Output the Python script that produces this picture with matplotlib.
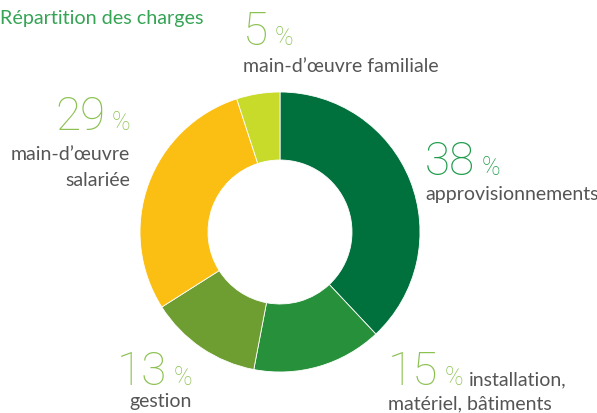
import matplotlib
matplotlib.use("Agg")
import matplotlib.pyplot as plt

W, H = 597, 414

# data
categories = ["approvisionnements", "installation,\nmatériel, bâtiments", "gestion",
              "main-d’œuvre\nsalariée", "main-d’œuvre familiale"]
values = [38, 15, 13, 29, 5]
colors = ["#00703c", "#26913a", "#6e9e31", "#fbbf14", "#c8da2a"]
title = "Répartition des charges"

plt.rcParams['font.family'] = ['Lato', 'DejaVu Sans']

fig = plt.figure(figsize=(W / 100, H / 100), dpi=100)
ax = fig.add_axes([0, 0, 1, 1])

# donut
ax.pie(values, colors=colors, startangle=90, counterclock=False,
       center=(280, H - 233), radius=140,
       wedgeprops=dict(width=68, edgecolor='white', linewidth=0.6))

# pie() resets the limits, so set them afterwards
ax.set_xlim(0, W)
ax.set_ylim(0, H)
ax.set_aspect('equal')
ax.axis('off')

ax.text(0, H - 24, title, color="#35a455", fontsize=14.2,
        ha='left', va='baseline')

fig.canvas.draw()
renderer = fig.canvas.get_renderer()

pct_green = "#8cc152"
label_grey = "#555555"
LBL = 14
NUMFONT = ['Roboto', 'Lato', 'DejaVu Sans']

# (x, number baseline, align, first label baseline) per slice, pixels from top-left
layout = [
    (425, 175, 'left', 200),
    (388, 385, 'left', 409),
    (192, 385, 'right', 407),
    (130, 130, 'right', 160),
    (243, 45, 'left', 72),
]


def big_pct(x, y, v, color, align):
    big = ax.text(0, 0, str(v), fontsize=33, family=NUMFONT, weight='light',
                  color=color, ha='left', va='baseline')
    pct = ax.text(0, 0, "%", fontsize=18, family=NUMFONT, weight='light',
                  color=color, ha='left', va='baseline')
    wb = big.get_window_extent(renderer).width
    wp = pct.get_window_extent(renderer).width
    gap = 6
    x0 = x if align == 'left' else x - (wb + gap + wp)
    big.set_position((x0, H - y))
    pct.set_position((x0 + wb + gap, H - y))
    return x0 + wb + gap + wp


for (x, y, align, ly), v, cat in zip(layout, values, categories):
    col = "#1e9b4a" if v == values[0] else pct_green
    end = big_pct(x, y, v, col, align)
    lines = cat.split("\n")
    if v == 15:
        ax.text(end + 6, H - y, lines[0], fontsize=LBL, color=label_grey,
                ha='left', va='baseline')
        ax.text(x, H - ly, lines[1], fontsize=LBL, color=label_grey,
                ha='left', va='baseline')
    else:
        for i, ln in enumerate(lines):
            ax.text(x, H - (ly + 26 * i), ln, fontsize=LBL,
                    color=label_grey, ha=align, va='baseline')

fig.savefig("out.png", dpi=100)
